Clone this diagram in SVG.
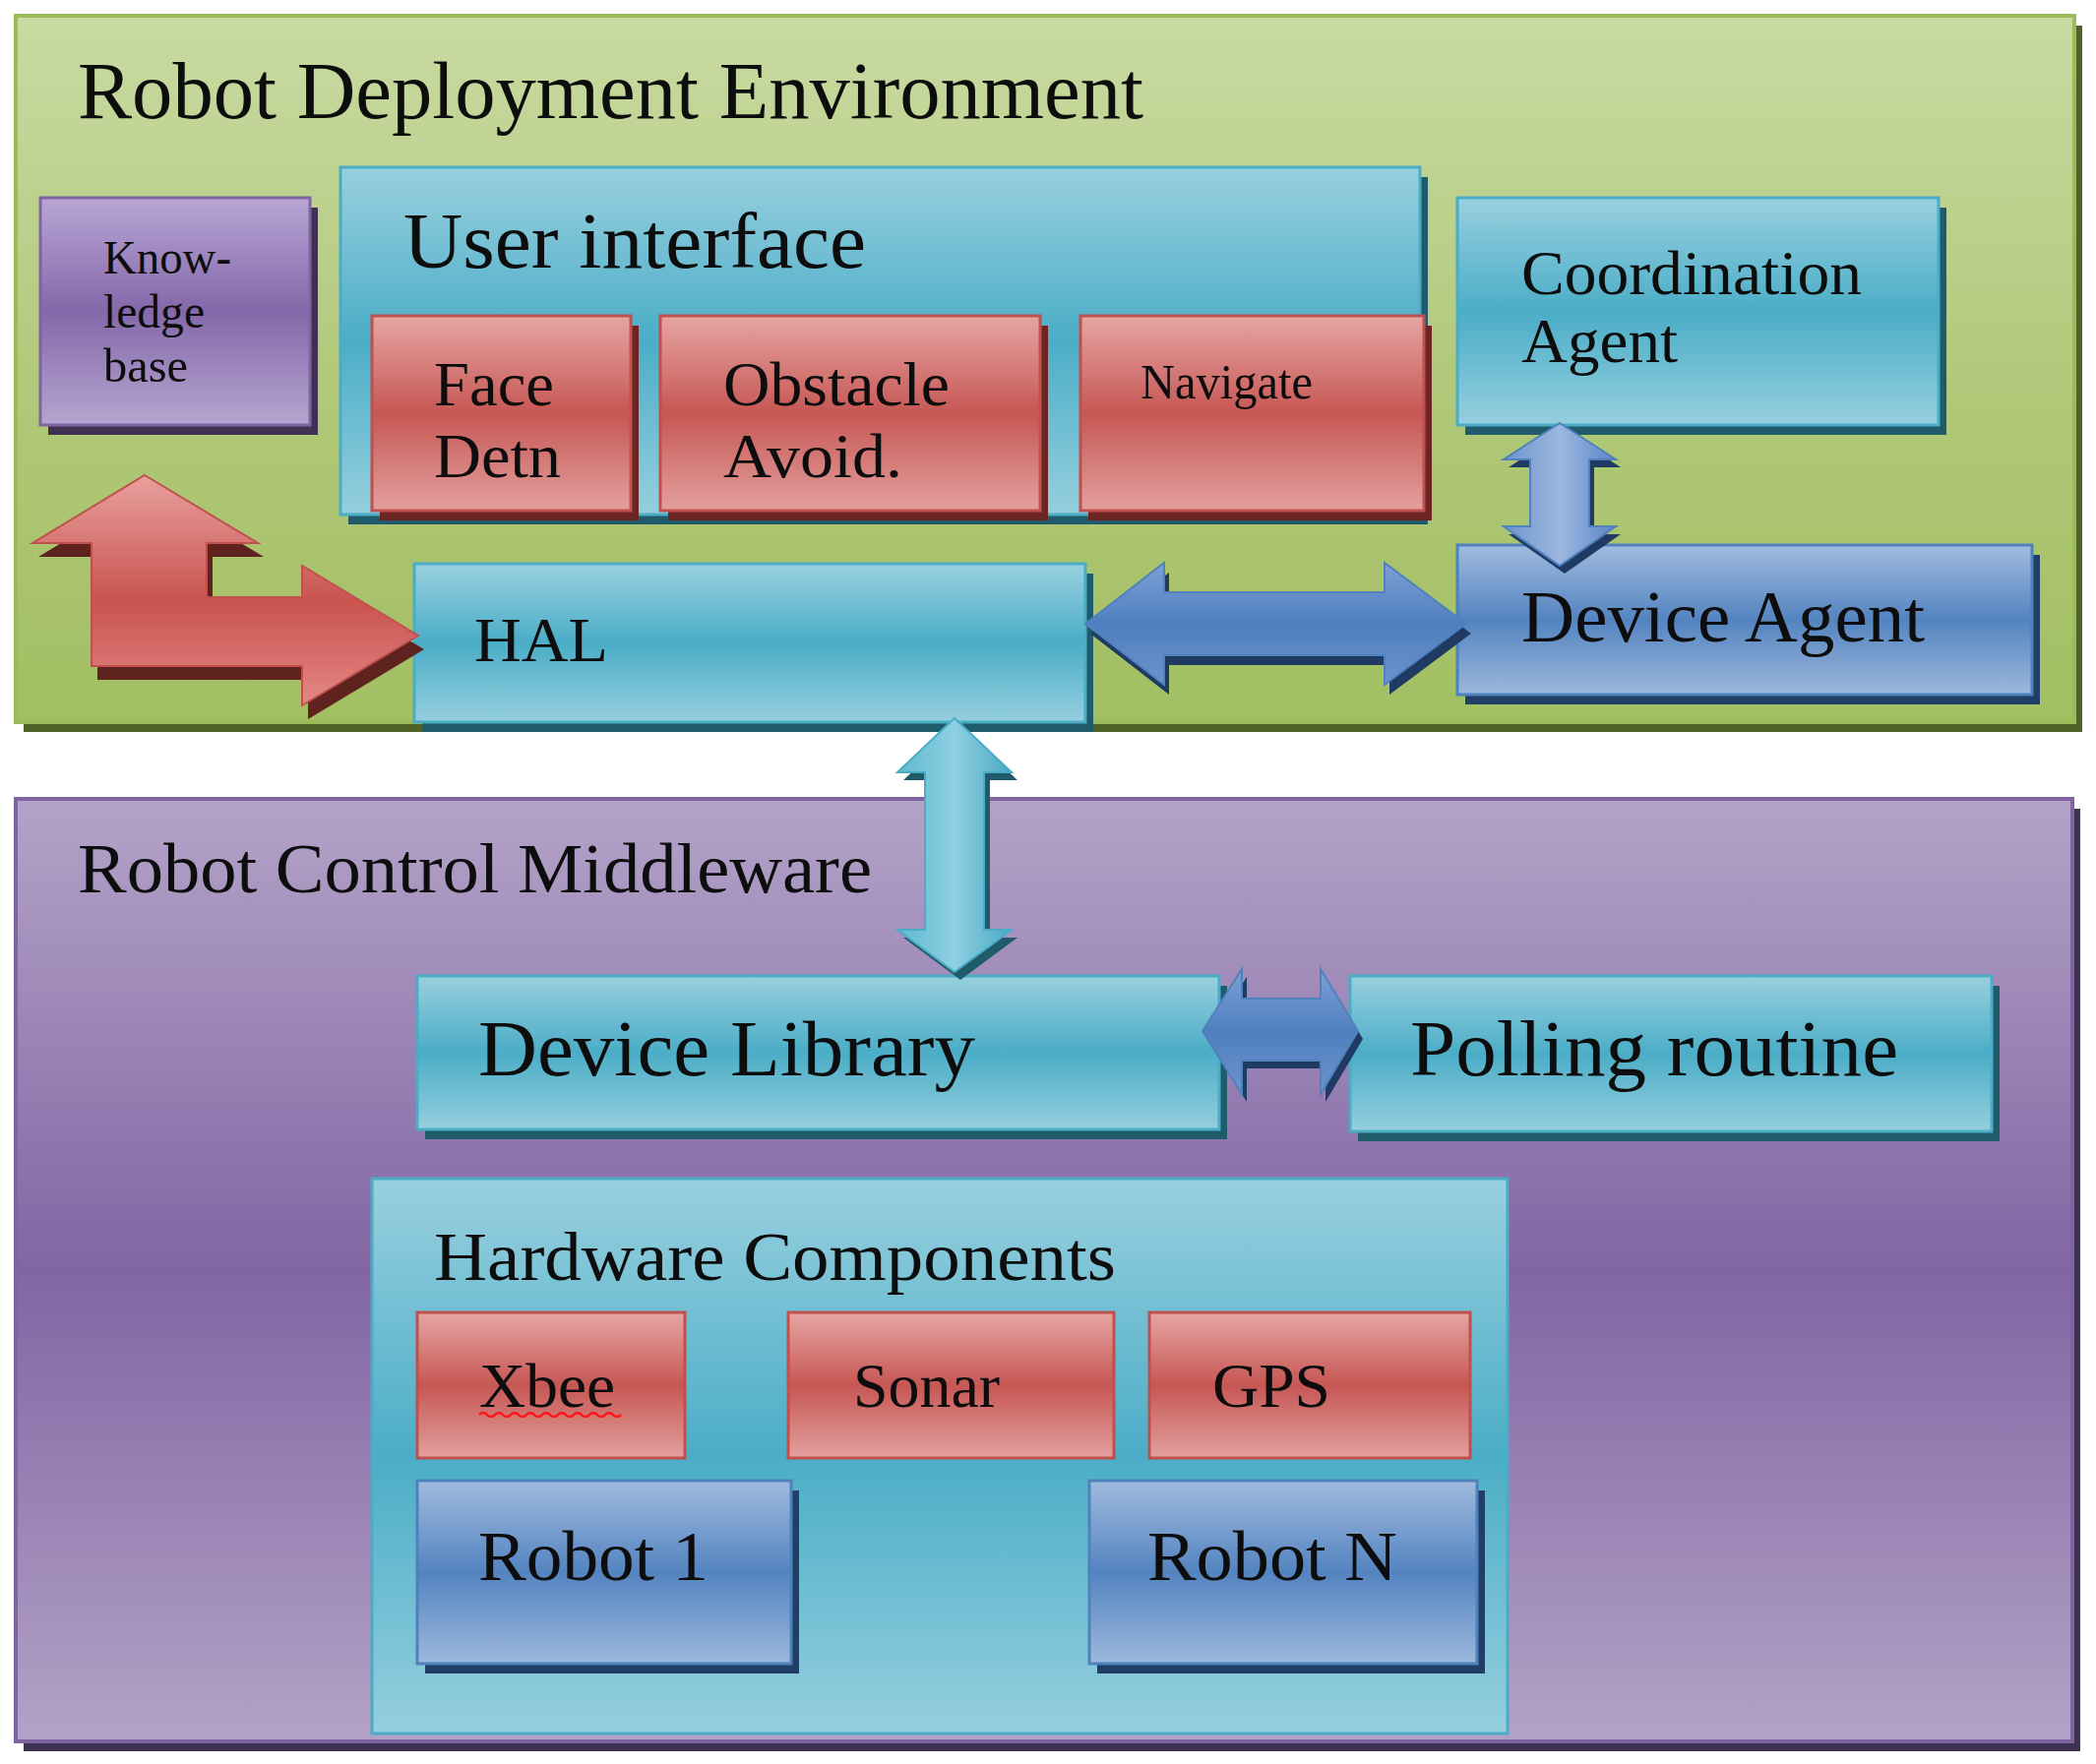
<svg xmlns="http://www.w3.org/2000/svg" xmlns:xlink="http://www.w3.org/1999/xlink" width="2130" height="1793" viewBox="0 0 2130 1793">
<defs>
<linearGradient id="gGreen" x1="0" y1="0" x2="0" y2="1"><stop offset="0" stop-color="#c9daa2"/><stop offset="0.55" stop-color="#b0c878"/><stop offset="1" stop-color="#a2bf62"/></linearGradient>
<linearGradient id="gPurple" x1="0" y1="0" x2="0" y2="1"><stop offset="0" stop-color="#b4a3c8"/><stop offset="0.5" stop-color="#8166a3"/><stop offset="1" stop-color="#b3a2c7"/></linearGradient>
<linearGradient id="gCyan" x1="0" y1="0" x2="0" y2="1"><stop offset="0" stop-color="#98d0df"/><stop offset="0.5" stop-color="#4badc7"/><stop offset="1" stop-color="#95cfde"/></linearGradient>
<linearGradient id="gRed" x1="0" y1="0" x2="0" y2="1"><stop offset="0" stop-color="#e6a5a3"/><stop offset="0.5" stop-color="#c65754"/><stop offset="1" stop-color="#e3a09e"/></linearGradient>
<linearGradient id="gBlue" x1="0" y1="0" x2="0" y2="1"><stop offset="0" stop-color="#a0bbdf"/><stop offset="0.5" stop-color="#5484c0"/><stop offset="1" stop-color="#9cb8dc"/></linearGradient>
<linearGradient id="gKnow" x1="0" y1="0" x2="0" y2="1"><stop offset="0" stop-color="#b9a6d4"/><stop offset="0.5" stop-color="#8468aa"/><stop offset="1" stop-color="#b7a5d0"/></linearGradient>
<linearGradient id="gBlueH" x1="0" y1="0" x2="0" y2="1"><stop offset="0" stop-color="#7ea0d4"/><stop offset="0.5" stop-color="#4f7fc0"/><stop offset="1" stop-color="#6d93cb"/></linearGradient>
<linearGradient id="gBlueV" x1="0" y1="0" x2="1" y2="0"><stop offset="0" stop-color="#6e94cc"/><stop offset="0.5" stop-color="#9cb7e0"/><stop offset="1" stop-color="#5c86c4"/></linearGradient>
<linearGradient id="gCyanV" x1="0" y1="0" x2="1" y2="0"><stop offset="0" stop-color="#5fb8d0"/><stop offset="0.5" stop-color="#8fd0e2"/><stop offset="1" stop-color="#4aa9c4"/></linearGradient>
<linearGradient id="gRedArrow" x1="0" y1="0" x2="0" y2="1"><stop offset="0" stop-color="#e8a09e"/><stop offset="0.55" stop-color="#c9534f"/><stop offset="1" stop-color="#e48885"/></linearGradient>
<path id="pRed" d="M147,483 L262,552 L210,552 L210,607 L307,607 L307,575 L425,646 L307,717 L307,677 L93,677 L93,552 L33,552 Z"/>
<path id="pHalDev" d="M1103,634 L1183,572 L1183,602 L1407,602 L1407,572 L1490,634 L1407,696 L1407,666 L1183,666 L1183,696 Z"/>
<path id="pCoordDev" d="M1585,430 L1642,467 L1615,467 L1615,535 L1642,535 L1585,575 L1528,535 L1555,535 L1555,467 L1528,467 Z"/>
<path id="pHalLib" d="M970,730 L1028,785 L1000,785 L1000,945 L1028,945 L970,988 L912,945 L940,945 L940,785 L912,785 Z"/>
<path id="pLibPoll" d="M1222,1048 L1262,985 L1262,1015 L1342,1015 L1342,985 L1380,1048 L1342,1112 L1342,1078 L1262,1078 L1262,1112 Z"/>
</defs>
<style>
text{font-family:"Liberation Serif","Times New Roman",serif;fill:#0d0d0d}
.cy{fill:url(#gCyan);stroke:#4bacc6;stroke-width:3}
.rd{fill:url(#gRed);stroke:#c0504d;stroke-width:3}
.bl{fill:url(#gBlue);stroke:#4f81bd;stroke-width:3}
.sh-cy{fill:#1f5b6b}
.sh-rd{fill:#6b2624}
.sh-bl{fill:#213f66}
.sh-pu{fill:#3f3151}
.sh-gr{fill:#4f6228}
</style>
<rect width="2130" height="1793" fill="#ffffff"/>
<g id="deployment-environment">
<rect class="sh-gr" x="24" y="26" width="2092" height="718"/>
<rect x="16" y="16" width="2092" height="718" fill="url(#gGreen)" stroke="#9bbb59" stroke-width="4"/>
<text x="79" y="120" font-size="82" textLength="1083" lengthAdjust="spacingAndGlyphs">Robot Deployment Environment</text>
</g>
<g id="control-middleware">
<rect class="sh-pu" x="24" y="822" width="2090" height="958"/>
<rect x="16" y="812" width="2090" height="958" fill="url(#gPurple)" stroke="#8064a2" stroke-width="4"/>
<text x="79" y="907" font-size="72" textLength="807" lengthAdjust="spacingAndGlyphs">Robot Control Middleware</text>
</g>
<g id="knowledge-base">
<rect class="sh-pu" x="49" y="211" width="274" height="231"/>
<rect x="41" y="201" width="274" height="231" fill="url(#gKnow)" stroke="#8064a2" stroke-width="3"/>
<text x="105" y="278" font-size="48" textLength="130" lengthAdjust="spacingAndGlyphs">Know-</text>
<text x="105" y="333" font-size="48" textLength="103" lengthAdjust="spacingAndGlyphs">ledge</text>
<text x="105" y="388" font-size="48" textLength="86" lengthAdjust="spacingAndGlyphs">base</text>
</g>
<g id="user-interface">
<rect class="sh-cy" x="354" y="180" width="1097" height="353"/>
<rect class="cy" x="346" y="170" width="1097" height="353"/>
<text x="410" y="272" font-size="80" textLength="470" lengthAdjust="spacingAndGlyphs">User interface</text>
</g>
<g id="face-detn">
<rect class="sh-rd" x="386" y="331" width="263" height="198"/>
<rect class="rd" x="378" y="321" width="263" height="198"/>
<text x="441" y="412" font-size="64" textLength="122" lengthAdjust="spacingAndGlyphs">Face</text>
<text x="441" y="485" font-size="64" textLength="129" lengthAdjust="spacingAndGlyphs">Detn</text>
</g>
<g id="obstacle-avoid">
<rect class="sh-rd" x="679" y="331" width="386" height="198"/>
<rect class="rd" x="671" y="321" width="386" height="198"/>
<text x="735" y="412" font-size="64" textLength="230" lengthAdjust="spacingAndGlyphs">Obstacle</text>
<text x="735" y="485" font-size="64" textLength="182" lengthAdjust="spacingAndGlyphs">Avoid.</text>
</g>
<g id="navigate">
<rect class="sh-rd" x="1106" y="331" width="349" height="198"/>
<rect class="rd" x="1098" y="321" width="349" height="198"/>
<text x="1159" y="405" font-size="50" textLength="175" lengthAdjust="spacingAndGlyphs">Navigate</text>
</g>
<g id="coordination-agent">
<rect class="sh-cy" x="1489" y="211" width="489" height="231"/>
<rect class="cy" x="1481" y="201" width="489" height="231"/>
<text x="1546" y="299" font-size="63" textLength="346" lengthAdjust="spacingAndGlyphs">Coordination</text>
<text x="1546" y="368" font-size="63" textLength="159" lengthAdjust="spacingAndGlyphs">Agent</text>
</g>
<g id="hal">
<rect class="sh-cy" x="429" y="583" width="682" height="161"/>
<rect class="cy" x="421" y="573" width="682" height="161"/>
<text x="482" y="672" font-size="64" textLength="136" lengthAdjust="spacingAndGlyphs">HAL</text>
</g>
<g id="device-agent">
<rect class="sh-bl" x="1489" y="564" width="584" height="152"/>
<rect class="bl" x="1481" y="554" width="584" height="152"/>
<text x="1546" y="652" font-size="73" textLength="410" lengthAdjust="spacingAndGlyphs">Device Agent</text>
</g>
<g id="device-library">
<rect class="sh-cy" x="432" y="1002" width="815" height="156"/>
<rect class="cy" x="424" y="992" width="815" height="156"/>
<text x="486" y="1093" font-size="81" textLength="505" lengthAdjust="spacingAndGlyphs">Device Library</text>
</g>
<g id="polling-routine">
<rect class="sh-cy" x="1380" y="1002" width="652" height="158"/>
<rect class="cy" x="1372" y="992" width="652" height="158"/>
<text x="1433" y="1093" font-size="80" textLength="496" lengthAdjust="spacingAndGlyphs">Polling routine</text>
</g>
<g id="hardware-components">
<rect class="cy" x="378" y="1198" width="1154" height="564"/>
<text x="441" y="1301" font-size="70" textLength="693" lengthAdjust="spacingAndGlyphs">Hardware Components</text>
</g>
<g id="xbee">
<rect class="rd" x="424" y="1334" width="272" height="148"/>
<text x="487" y="1430" font-size="64" textLength="138" lengthAdjust="spacingAndGlyphs">Xbee</text>
<path d="M487,1438 q4,-4 8,0 t8,0 t8,0 t8,0 t8,0 t8,0 t8,0 t8,0 t8,0 t8,0 t8,0 t8,0 t8,0 t8,0 t8,0 t8,0 t8,0 t8,0" fill="none" stroke="#ff1a1a" stroke-width="2.5"/>
</g>
<g id="sonar">
<rect class="rd" x="801" y="1334" width="331" height="148"/>
<text x="867" y="1430" font-size="64" textLength="149" lengthAdjust="spacingAndGlyphs">Sonar</text>
</g>
<g id="gps">
<rect class="rd" x="1168" y="1334" width="326" height="148"/>
<text x="1232" y="1430" font-size="64" textLength="120" lengthAdjust="spacingAndGlyphs">GPS</text>
</g>
<g id="robot-1">
<rect class="sh-bl" x="432" y="1515" width="380" height="186"/>
<rect class="bl" x="424" y="1505" width="380" height="186"/>
<text x="486" y="1606" font-size="72" textLength="234" lengthAdjust="spacingAndGlyphs">Robot 1</text>
</g>
<g id="robot-n">
<rect class="sh-bl" x="1115" y="1515" width="394" height="186"/>
<rect class="bl" x="1107" y="1505" width="394" height="186"/>
<text x="1166" y="1606" font-size="72" textLength="254" lengthAdjust="spacingAndGlyphs">Robot N</text>
</g>
<g id="connectors">
<use xlink:href="#pRed" transform="translate(6,14)" fill="#5e221f"/>
<use xlink:href="#pRed" fill="url(#gRedArrow)" stroke="#c0504d" stroke-width="2"/>
<use xlink:href="#pHalDev" transform="translate(5,10)" fill="#1f3a63"/>
<use xlink:href="#pHalDev" fill="url(#gBlueH)" stroke="#4f81bd" stroke-width="2"/>
<use xlink:href="#pCoordDev" transform="translate(5,8)" fill="#1f3a63"/>
<use xlink:href="#pCoordDev" fill="url(#gBlueV)" stroke="#4f81bd" stroke-width="2"/>
<use xlink:href="#pHalLib" transform="translate(6,8)" fill="#1f5b6b"/>
<use xlink:href="#pHalLib" fill="url(#gCyanV)" stroke="#4bacc6" stroke-width="2"/>
<use xlink:href="#pLibPoll" transform="translate(5,8)" fill="#1f3a63"/>
<use xlink:href="#pLibPoll" fill="url(#gBlueH)" stroke="#4f81bd" stroke-width="2"/>
</g>
</svg>
